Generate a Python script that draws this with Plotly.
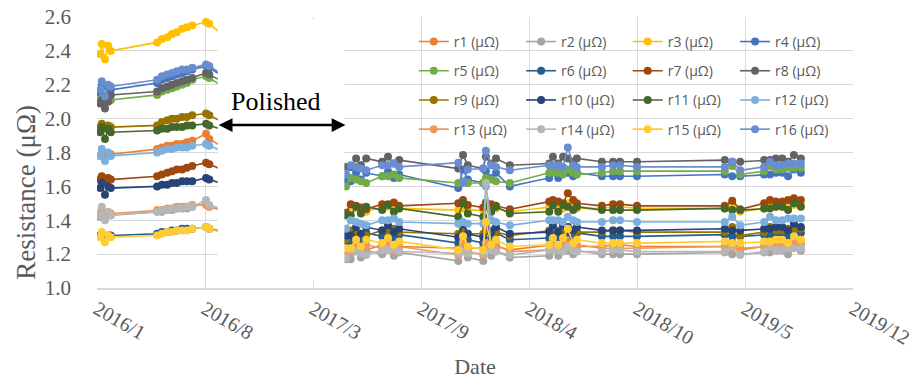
import plotly.graph_objects as go

dates = [
    "2016-01-26", "2016-01-29", "2016-02-04", "2016-02-10", "2016-02-15",
    "2016-05-12", "2016-05-21", "2016-05-31", "2016-06-09", "2016-06-18",
    "2016-06-28", "2016-07-07", "2016-07-17", "2016-08-12", "2016-08-18",
    "2016-09-18",
    "2017-04-17", "2017-05-02", "2017-05-11", "2017-05-21", "2017-05-30",
    "2017-06-09", "2017-07-09", "2017-07-20", "2017-07-31", "2017-08-10",
    "2017-11-29", "2017-12-08", "2017-12-17", "2018-01-15", "2018-01-20",
    "2018-01-30", "2018-02-08", "2018-03-06", "2018-05-19", "2018-05-26",
    "2018-06-05", "2018-06-14", "2018-06-23", "2018-07-03", "2018-07-10",
    "2018-08-26", "2018-09-16", "2018-09-29", "2018-10-31", "2019-04-14",
    "2019-04-28", "2019-05-13", "2019-06-27", "2019-07-08", "2019-07-19",
    "2019-07-31", "2019-08-11", "2019-08-22", "2019-09-04",
]

r1 = [1.78, 1.80, 1.77, 1.79, 1.79, 1.82, 1.83, 1.84, 1.84, 1.85, 1.85, 1.86, 1.87, 1.91, 1.88, 1.82,
      1.215, 1.205, 1.255, 1.245, 1.235, 1.225, 1.255, 1.255, 1.265, 1.245, 1.235, 1.245, 1.235, 1.235,
      1.265, 1.255, 1.245, 1.225, 1.255, 1.255, 1.255, 1.245, 1.275, 1.255, 1.245, 1.245, 1.255, 1.255,
      1.245, 1.245, 1.275, 1.225, 1.245, 1.275, 1.255, 1.255, 1.265, 1.265, 1.265]
r2 = [1.42, 1.46, 1.41, 1.44, 1.43, 1.45, 1.45, 1.46, 1.46, 1.47, 1.47, 1.47, 1.48, 1.50, 1.48, 1.45,
      1.17, 1.17, 1.17, 1.22, 1.18, 1.22, 1.20, 1.23, 1.19, 1.21, 1.16, 1.24, 1.18, 1.16, 1.23, 1.19,
      1.22, 1.18, 1.19, 1.23, 1.19, 1.23, 1.22, 1.20, 1.22, 1.20, 1.20, 1.20, 1.20, 1.21, 1.20, 1.20,
      1.21, 1.21, 1.22, 1.22, 1.20, 1.24, 1.22]
r3 = [2.38, 2.44, 2.35, 2.43, 2.40, 2.45, 2.47, 2.48, 2.50, 2.51, 2.53, 2.54, 2.55, 2.57, 2.56, 2.48,
      1.44, 1.43, 1.48, 1.47, 1.46, 1.45, 1.48, 1.48, 1.49, 1.47, 1.46, 1.47, 1.46, 1.46, 1.49, 1.48,
      1.47, 1.45, 1.48, 1.48, 1.48, 1.47, 1.50, 1.48, 1.47, 1.47, 1.48, 1.48, 1.47, 1.47, 1.50, 1.45,
      1.47, 1.50, 1.48, 1.48, 1.49, 1.49, 1.49]
r4 = [2.15, 2.20, 2.12, 2.18, 2.17, 2.21, 2.23, 2.24, 2.25, 2.26, 2.27, 2.28, 2.29, 2.31, 2.30, 2.24,
      1.63, 1.63, 1.63, 1.68, 1.64, 1.68, 1.66, 1.69, 1.65, 1.67, 1.59, 1.70, 1.64, 1.62, 1.69, 1.65,
      1.68, 1.60, 1.65, 1.69, 1.65, 1.69, 1.68, 1.66, 1.68, 1.66, 1.66, 1.66, 1.66, 1.67, 1.66, 1.66,
      1.67, 1.67, 1.68, 1.68, 1.66, 1.70, 1.68]
r5 = [2.11, 2.12, 2.09, 2.12, 2.11, 2.14, 2.16, 2.17, 2.18, 2.19, 2.20, 2.21, 2.23, 2.25, 2.24, 2.18,
      1.61, 1.60, 1.65, 1.64, 1.63, 1.62, 1.66, 1.66, 1.67, 1.65, 1.62, 1.63, 1.62, 1.62, 1.65, 1.64,
      1.63, 1.62, 1.68, 1.68, 1.68, 1.67, 1.70, 1.68, 1.67, 1.68, 1.69, 1.69, 1.69, 1.69, 1.72, 1.67,
      1.69, 1.72, 1.70, 1.70, 1.71, 1.71, 1.71]
r6 = [1.31, 1.31, 1.30, 1.31, 1.31, 1.32, 1.33, 1.33, 1.34, 1.34, 1.35, 1.35, 1.35, 1.36, 1.35, 1.33,
      1.275, 1.275, 1.275, 1.325, 1.285, 1.325, 1.305, 1.335, 1.295, 1.315, 1.265, 1.345, 1.285, 1.265,
      1.335, 1.295, 1.325, 1.285, 1.295, 1.335, 1.295, 1.335, 1.325, 1.305, 1.325, 1.305, 1.305, 1.305,
      1.305, 1.315, 1.305, 1.305, 1.315, 1.315, 1.325, 1.325, 1.305, 1.345, 1.325]
r7 = [1.64, 1.66, 1.63, 1.65, 1.64, 1.66, 1.67, 1.68, 1.69, 1.70, 1.70, 1.71, 1.72, 1.74, 1.73, 1.69,
      1.455, 1.445, 1.495, 1.485, 1.475, 1.465, 1.495, 1.495, 1.505, 1.485, 1.50, 1.52, 1.49, 1.475,
      1.505, 1.495, 1.485, 1.465, 1.51, 1.52, 1.51, 1.50, 1.56, 1.52, 1.50, 1.485, 1.495, 1.495,
      1.485, 1.485, 1.515, 1.465, 1.50, 1.52, 1.51, 1.51, 1.52, 1.53, 1.52]
r8 = [2.09, 2.11, 2.06, 2.10, 2.14, 2.16, 2.18, 2.19, 2.20, 2.21, 2.22, 2.23, 2.24, 2.27, 2.26, 2.21,
      1.715, 1.715, 1.715, 1.765, 1.725, 1.765, 1.745, 1.775, 1.735, 1.755, 1.705, 1.785, 1.725, 1.705,
      1.775, 1.735, 1.765, 1.725, 1.735, 1.775, 1.735, 1.775, 1.765, 1.745, 1.765, 1.745, 1.745, 1.745,
      1.745, 1.755, 1.745, 1.745, 1.755, 1.755, 1.765, 1.765, 1.745, 1.785, 1.765]
r9 = [1.95, 1.97, 1.94, 1.96, 1.95, 1.96, 1.98, 1.99, 2.00, 2.00, 2.01, 2.01, 2.02, 2.03, 2.02, 1.97,
      1.30, 1.29, 1.34, 1.33, 1.32, 1.31, 1.34, 1.34, 1.35, 1.33, 1.32, 1.33, 1.32, 1.32, 1.35, 1.34,
      1.33, 1.31, 1.34, 1.34, 1.34, 1.33, 1.36, 1.34, 1.33, 1.33, 1.34, 1.34, 1.33, 1.33, 1.36, 1.31,
      1.33, 1.36, 1.34, 1.34, 1.35, 1.35, 1.35]
r10 = [1.59, 1.62, 1.55, 1.60, 1.59, 1.60, 1.61, 1.61, 1.62, 1.62, 1.63, 1.63, 1.63, 1.65, 1.64, 1.61,
       1.31, 1.31, 1.31, 1.36, 1.32, 1.36, 1.34, 1.37, 1.33, 1.35, 1.30, 1.38, 1.32, 1.30, 1.37, 1.33,
       1.36, 1.32, 1.33, 1.37, 1.33, 1.37, 1.36, 1.34, 1.36, 1.34, 1.34, 1.34, 1.34, 1.35, 1.34, 1.34,
       1.35, 1.35, 1.36, 1.36, 1.34, 1.38, 1.36]
r11 = [1.92, 1.95, 1.88, 1.94, 1.92, 1.93, 1.94, 1.94, 1.95, 1.95, 1.95, 1.96, 1.96, 1.97, 1.96, 1.93,
       1.43, 1.43, 1.43, 1.48, 1.44, 1.48, 1.46, 1.49, 1.45, 1.47, 1.42, 1.50, 1.44, 1.42, 1.49, 1.45,
       1.48, 1.44, 1.45, 1.49, 1.45, 1.49, 1.48, 1.46, 1.48, 1.46, 1.46, 1.46, 1.46, 1.47, 1.46, 1.46,
       1.47, 1.47, 1.48, 1.48, 1.46, 1.50, 1.48]
r12 = [1.78, 1.82, 1.75, 1.80, 1.78, 1.80, 1.81, 1.82, 1.82, 1.83, 1.83, 1.83, 1.84, 1.85, 1.84, 1.80,
       1.36, 1.35, 1.40, 1.39, 1.38, 1.37, 1.40, 1.40, 1.41, 1.39, 1.38, 1.39, 1.38, 1.38, 1.60, 1.40,
       1.39, 1.37, 1.40, 1.40, 1.40, 1.39, 1.42, 1.40, 1.39, 1.39, 1.40, 1.40, 1.39, 1.39, 1.42, 1.37,
       1.39, 1.42, 1.40, 1.40, 1.41, 1.41, 1.41]
r13 = [1.44, 1.45, 1.43, 1.44, 1.44, 1.46, 1.46, 1.47, 1.47, 1.48, 1.48, 1.48, 1.49, 1.49, 1.48, 1.46,
       1.205, 1.205, 1.205, 1.255, 1.215, 1.255, 1.235, 1.265, 1.225, 1.245, 1.195, 1.275, 1.215, 1.195,
       1.265, 1.225, 1.255, 1.215, 1.225, 1.265, 1.225, 1.265, 1.255, 1.235, 1.255, 1.235, 1.235, 1.235,
       1.235, 1.245, 1.235, 1.235, 1.245, 1.245, 1.255, 1.255, 1.235, 1.275, 1.255]
r14 = [1.43, 1.48, 1.40, 1.45, 1.43, 1.45, 1.46, 1.46, 1.47, 1.47, 1.47, 1.48, 1.48, 1.52, 1.49, 1.46,
       1.185, 1.175, 1.225, 1.215, 1.205, 1.195, 1.225, 1.225, 1.235, 1.215, 1.205, 1.215, 1.205, 1.205,
       1.62, 1.225, 1.215, 1.195, 1.225, 1.225, 1.225, 1.215, 1.245, 1.225, 1.215, 1.215, 1.225, 1.225,
       1.215, 1.215, 1.245, 1.195, 1.215, 1.245, 1.225, 1.225, 1.235, 1.235, 1.235]
r15 = [1.30, 1.33, 1.27, 1.31, 1.30, 1.31, 1.32, 1.33, 1.33, 1.34, 1.34, 1.34, 1.35, 1.36, 1.35, 1.32,
       1.235, 1.235, 1.235, 1.285, 1.245, 1.285, 1.265, 1.295, 1.255, 1.275, 1.225, 1.305, 1.245, 1.225,
       1.39, 1.255, 1.285, 1.245, 1.255, 1.295, 1.255, 1.295, 1.35, 1.265, 1.285, 1.265, 1.265, 1.265,
       1.265, 1.275, 1.265, 1.265, 1.275, 1.275, 1.285, 1.285, 1.265, 1.305, 1.285]
r16 = [2.17, 2.22, 2.13, 2.20, 2.19, 2.23, 2.25, 2.26, 2.27, 2.28, 2.29, 2.29, 2.30, 2.32, 2.31, 2.25,
       1.685, 1.675, 1.725, 1.715, 1.705, 1.695, 1.725, 1.725, 1.735, 1.715, 1.74, 1.62, 1.70, 1.705,
       1.81, 1.725, 1.715, 1.695, 1.725, 1.725, 1.725, 1.715, 1.83, 1.725, 1.715, 1.715, 1.725, 1.725,
       1.715, 1.715, 1.745, 1.695, 1.715, 1.745, 1.725, 1.725, 1.735, 1.735, 1.735]

series = [r1, r2, r3, r4, r5, r6, r7, r8, r9, r10, r11, r12, r13, r14, r15, r16]
names = ["r%d (μΩ)" % (i + 1) for i in range(16)]
colors = ["#ED7D31", "#A5A5A5", "#FFC000", "#4472C4", "#70AD47", "#255E91", "#9E480E", "#636363",
          "#997300", "#264478", "#43682B", "#7CAFDD", "#F1975A", "#B7B7B7", "#FFCD33", "#698ED0"]

tick_dates = ["2016-01-20", "2016-08-10", "2017-03-01", "2017-09-20", "2018-04-11",
              "2018-10-31", "2019-05-22", "2019-12-11"]
tick_labels = ["2016/1", "2016/8", "2017/3", "2017/9", "2018/4", "2018/10", "2019/5", "2019/12"]
y_ticks = [1.0, 1.2, 1.4, 1.6, 1.8, 2.0, 2.2, 2.4, 2.6]

gap_start, gap_end = "2016-09-03", "2017-04-29"
arrow_left, arrow_right = "2016-09-02", "2017-05-01"

for s in series:
    assert len(s) == len(dates), len(s)

fig = go.Figure()
legend_ids = ["legend", "legend2", "legend3", "legend4"]
for i, (vals, name, col) in enumerate(zip(series, names, colors)):
    fig.add_trace(go.Scatter(
        x=dates, y=vals, name=name, mode="lines+markers",
        line=dict(color=col, width=1.6),
        marker=dict(color=col, size=8, symbol="circle"),
        legend=legend_ids[i % 4], legendgroup=name,
    ))

# white panel covering the polishing interval
fig.add_shape(type="rect", xref="x", yref="y", x0=gap_start, x1=gap_end, y0=1.045, y1=2.585,
              fillcolor="white", line=dict(width=0), layer="above")

fig.add_annotation(x=arrow_right, y=1.962, ax=arrow_left, ay=1.962, xref="x", yref="y",
                   axref="x", ayref="y", text="", showarrow=True, arrowhead=2, arrowside="end+start",
                   arrowsize=1.1, arrowwidth=2.5, arrowcolor="black")
fig.add_annotation(x="2016-12-22", y=2.104, xref="x", yref="y", text="Polished", showarrow=False,
                   font=dict(family="Liberation Serif", size=26, color="black"))
# y-axis title (sits lower than the plot centre in the original)
fig.add_annotation(x=-0.094, y=0.355, xref="paper", yref="paper", text="Resistance (μΩ)",
                   textangle=-90, showarrow=False, xanchor="center", yanchor="middle",
                   font=dict(family="Liberation Serif", size=27, color="#595959"))

leg_common = dict(orientation="v", xanchor="left", yanchor="top", y=0.967,
                  bgcolor="rgba(0,0,0,0)", tracegroupgap=8, itemwidth=30,
                  font=dict(family="Open Sans", size=14, color="#595959"))
lx = [0.419, 0.561, 0.702, 0.844]

fig.update_layout(
    width=921, height=384,
    margin=dict(l=97, r=68, t=17, b=96, autoexpand=False),
    paper_bgcolor="white", plot_bgcolor="white",
    legend=dict(x=lx[0], **leg_common),
    legend2=dict(x=lx[1], **leg_common),
    legend3=dict(x=lx[2], **leg_common),
    legend4=dict(x=lx[3], **leg_common),
    xaxis=dict(
        type="date", range=[tick_dates[0], tick_dates[-1]], automargin=False,
        tickvals=tick_dates, ticktext=tick_labels, tickangle=30,
        showgrid=True, gridcolor="#D9D9D9", gridwidth=1,
        showline=True, linecolor="#D9D9D9", linewidth=1.5, mirror=False,
        ticks="", zeroline=False, ticklabeloverflow="allow",
        tickfont=dict(family="Liberation Serif", size=20, color="#595959"),
        title=dict(text="Date", standoff=11,
                   font=dict(family="Liberation Serif", size=22, color="#595959")),
    ),
    yaxis=dict(
        range=[1.0, 2.6], tickvals=y_ticks, tickformat=".1f", automargin=False,
        showgrid=True, gridcolor="#D9D9D9", gridwidth=1,
        showline=False, zeroline=False, ticks="", ticklabelstandoff=25,
        ticklabeloverflow="allow",
        tickfont=dict(family="Liberation Serif", size=21, color="#595959"),
    ),
)

fig.write_html("out.html", config={"displayModeBar": False},
               post_script="document.body.style.margin='0px';")
